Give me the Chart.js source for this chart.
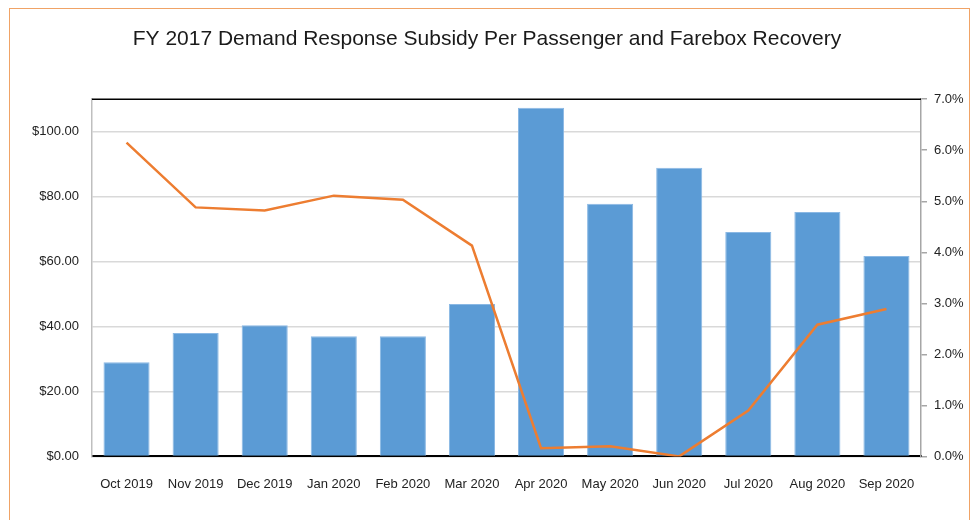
<!DOCTYPE html>
<html>
<head>
<meta charset="utf-8">
<script src="https://cdn.jsdelivr.net/npm/chart.js@4/dist/chart.umd.min.js"></script>
<style>
  body { margin: 0; background: #fff; }
  #wrap { position: relative; width: 974px; height: 520px; overflow: hidden; }
  #frame { position: absolute; left: 9px; top: 8px; width: 961px; height: 540px; border: 1px solid #F0A366; box-sizing: border-box; }
  canvas { position: absolute; left: 0; top: 0; }
</style>
</head>
<body>
<div id="wrap">
  <div id="frame"></div>
  <canvas id="myChart" width="974" height="520"></canvas>
</div>
<script>
var months = ['Oct 2019', 'Nov 2019', 'Dec 2019', 'Jan 2020', 'Feb 2020', 'Mar 2020',
              'Apr 2020', 'May 2020', 'Jun 2020', 'Jul 2020', 'Aug 2020', 'Sep 2020'];
// subsidy per passenger ($)
var subsidy = [29.0, 38.0, 40.4, 37.0, 37.0, 46.9, 107.4, 77.8, 88.9, 69.1, 75.3, 61.7];
// farebox recovery (%)
var farebox = [6.15, 4.88, 4.82, 5.11, 5.03, 4.13, 0.16, 0.20, 0.0, 0.90, 2.58, 2.89];

var FONT = "'Liberation Sans', Arial, sans-serif";

// black line along the top of the plot area
var topLine = {
  id: 'topLine',
  afterDraw: function(chart) {
    var a = chart.chartArea, ctx = chart.ctx;
    ctx.save();
    ctx.strokeStyle = '#000';
    ctx.lineWidth = 1.5;
    ctx.beginPath();
    ctx.moveTo(a.left, a.top);
    ctx.lineTo(a.right, a.top);
    ctx.stroke();
    ctx.restore();
  }
};

var ctx = document.getElementById('myChart').getContext('2d');
var chart = new Chart(ctx, {
  type: 'bar',
  data: {
    labels: months,
    datasets: [{
      type: 'line',
      label: 'Farebox Recovery',
      data: farebox,
      yAxisID: 'y1',
      borderColor: '#ED7D31',
      borderWidth: 2.5,
      pointRadius: 0,
      tension: 0,
      order: 0
    }, {
      type: 'bar',
      label: 'Subsidy Per Passenger',
      data: subsidy,
      yAxisID: 'y',
      backgroundColor: '#5B9BD5',
      borderColor: '#8AB8E4',
      borderWidth: 1,
      categoryPercentage: 1,
      barPercentage: 0.667,
      order: 1
    }]
  },
  options: {
    responsive: false,
    animation: false,
    layout: { padding: { left: 0, right: 0, top: 0, bottom: 16 } },
    plugins: {
      legend: { display: false },
      tooltip: { enabled: false },
      title: {
        display: true,
        text: 'FY 2017 Demand Response Subsidy Per Passenger and Farebox Recovery',
        color: '#1a1a1a',
        font: { family: FONT, size: 21, weight: 'normal' },
        padding: { top: 27, bottom: 47 }
      }
    },
    scales: {
      x: {
        grid: { display: false },
        border: { display: true, color: '#000', width: 2 },
        ticks: { color: '#222', font: { family: FONT, size: 13 }, padding: 12, maxRotation: 0, autoSkip: false }
      },
      y: {
        position: 'left',
        min: 0,
        max: 110,
        afterFit: function(s) { s.width = 92; },
        grid: { color: '#D9D9D9', lineWidth: 1.5, drawTicks: false },
        border: { display: true, color: '#BFBFBF', width: 1.5 },
        ticks: {
          stepSize: 20,
          includeBounds: false,
          padding: 13,
          color: '#222',
          font: { family: FONT, size: 13 },
          callback: function(v) { return '$' + v.toFixed(2); }
        }
      },
      y1: {
        position: 'right',
        min: 0,
        max: 7,
        afterFit: function(s) { s.width = 53; },
        grid: { drawOnChartArea: false, drawTicks: true, tickLength: 6, tickColor: '#A6A6A6', lineWidth: 1.5 },
        border: { display: true, color: '#A6A6A6', width: 1.5 },
        ticks: {
          stepSize: 1,
          padding: 7,
          color: '#222',
          font: { family: FONT, size: 13 },
          callback: function(v) { return v.toFixed(1) + '%'; }
        }
      }
    }
  },
  plugins: [topLine]
});
</script>
</body>
</html>
